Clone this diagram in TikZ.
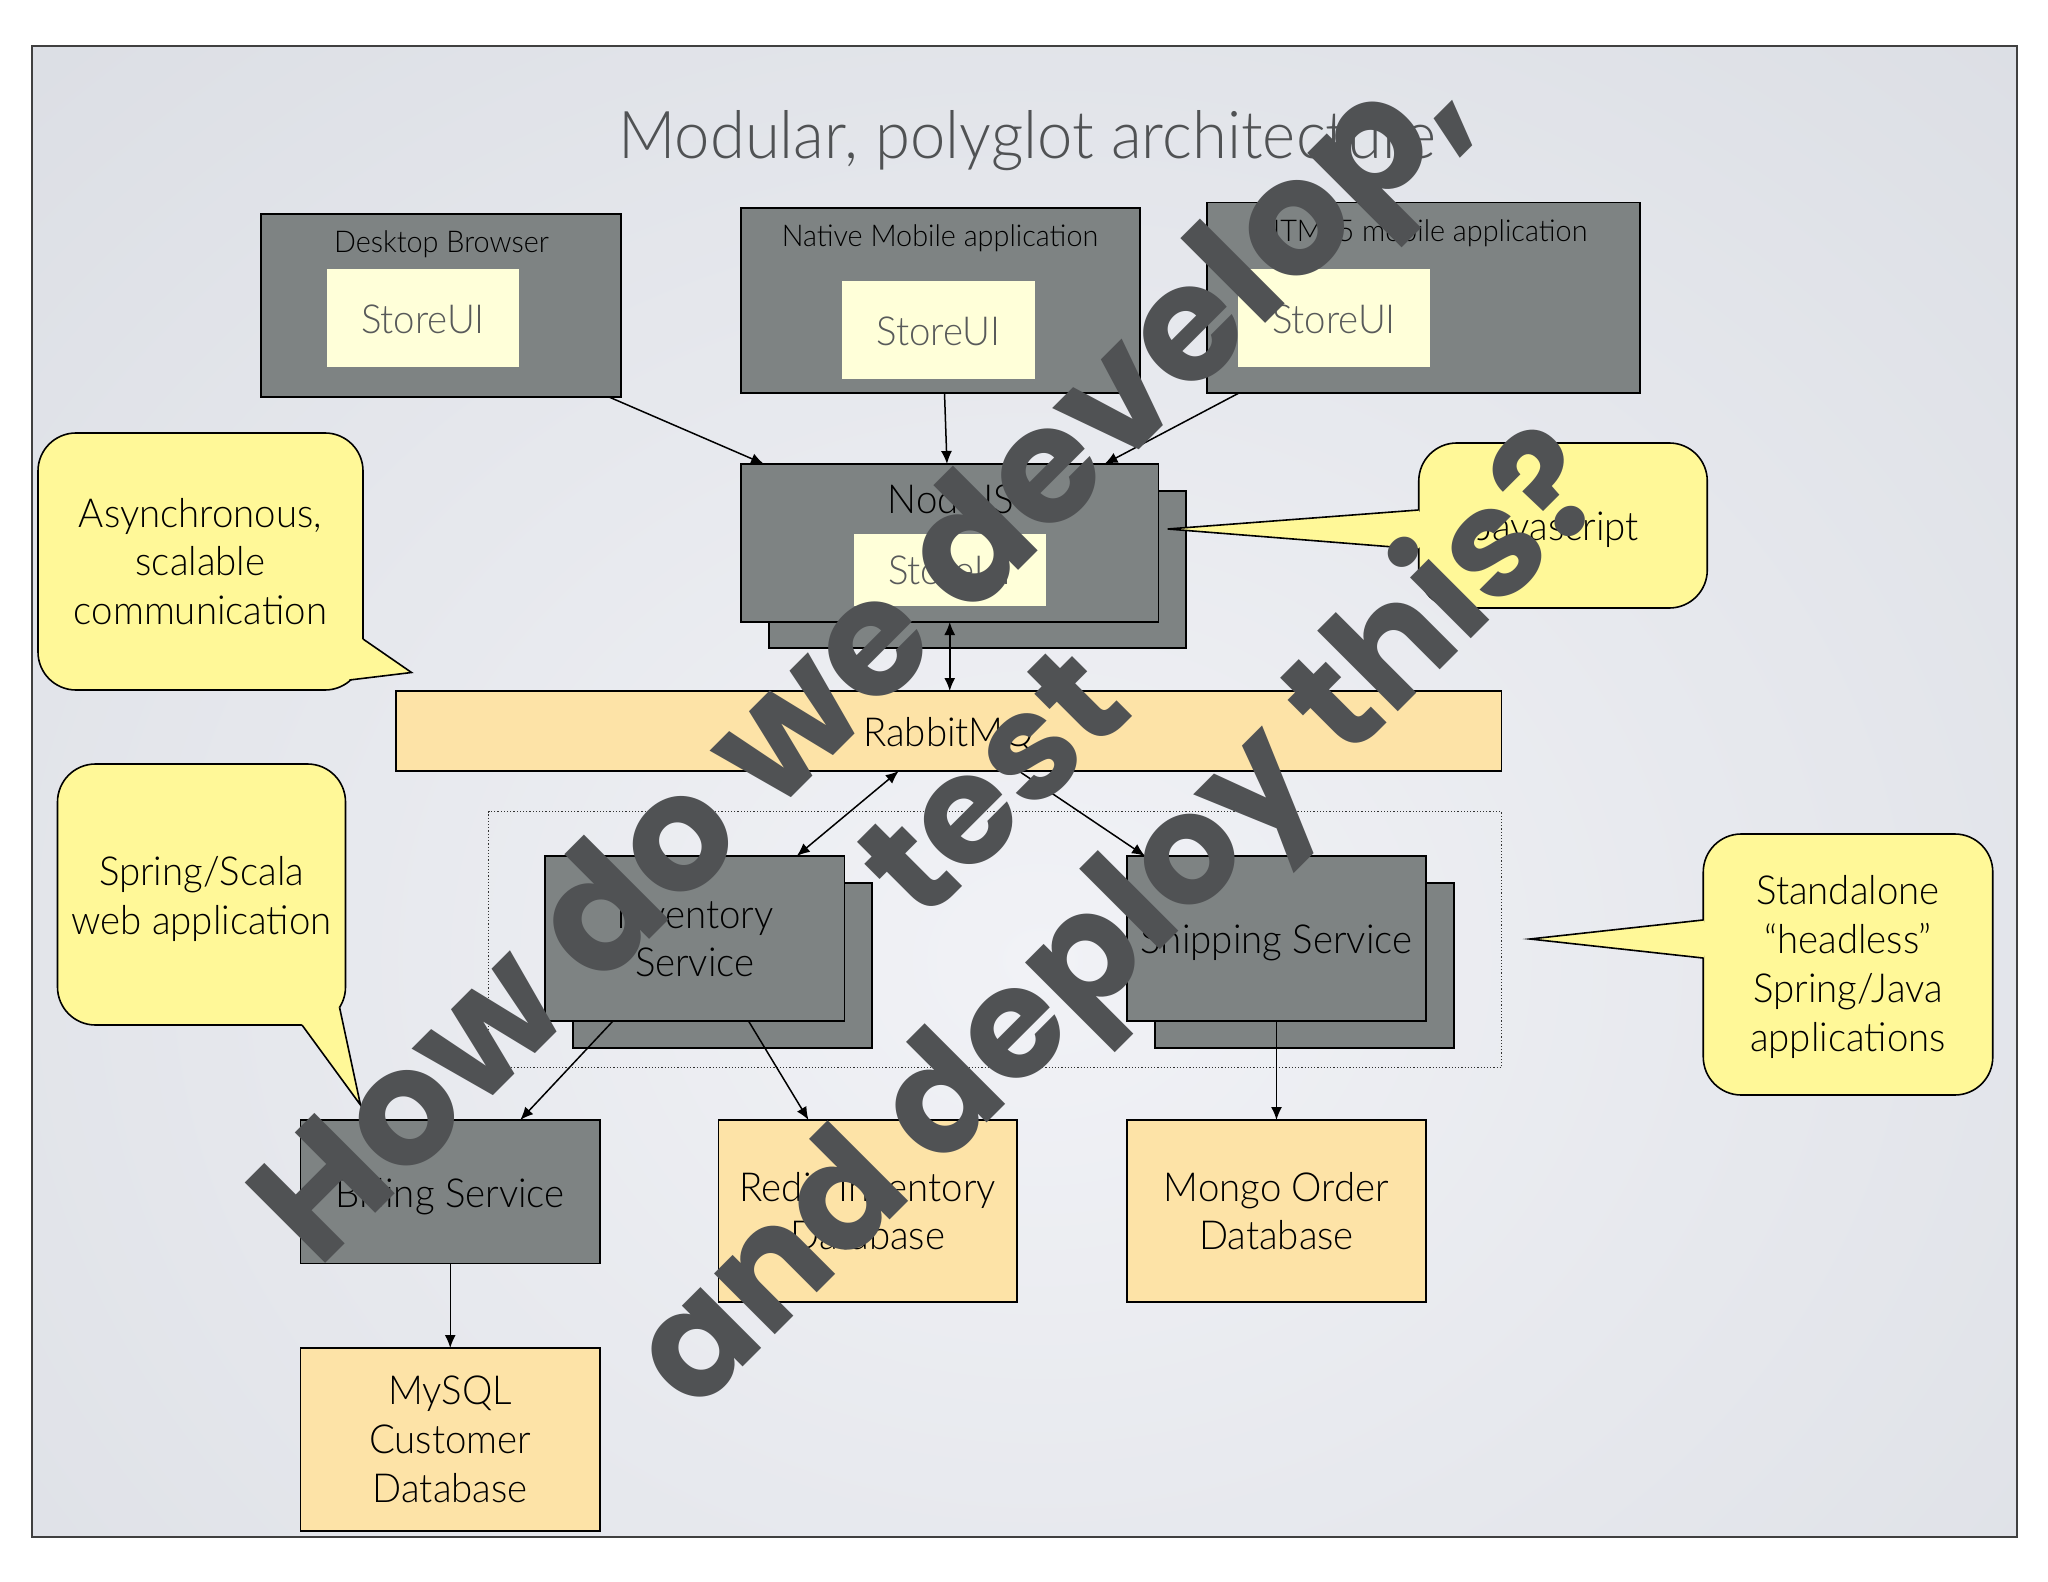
\documentclass[tikz,border=0pt]{standalone}
\usepackage{fontspec}
\setmainfont{Lato}[UprightFont=* Light,FakeStretch=.96]
\newfontfamily\overlayfont{Poppins}
\usetikzlibrary{arrows.meta}
\definecolor{slatebox}{RGB}{126, 131, 131}
\definecolor{paleui}{RGB}{255, 255, 217}
\definecolor{noteyellow}{RGB}{255, 248, 152}
\definecolor{storeorange}{RGB}{253, 227, 167}
\definecolor{inkgray}{RGB}{80, 82, 84}
\definecolor{uigray}{RGB}{88, 90, 90}
\definecolor{bga}{RGB}{241, 242, 246}
\definecolor{bgc}{RGB}{192, 197, 206}
\newcommand{\dropline}{\rule{0pt}{19pt}}
\tikzset{
  service/.style={draw=black,fill=slatebox,line width=.8pt,inner sep=0pt,outer sep=0pt,align=center,font=\fontsize{20}{24.35}\selectfont},
  uibox/.style={fill=paleui,inner sep=0pt,outer sep=0pt,text=uigray,font=\fontsize{20}{24}\selectfont},
  store/.style={service,fill=storeorange},
  note/.style={draw=black,fill=noteyellow,line width=.8pt,rounded corners=19pt,inner sep=0pt,outer sep=0pt,align=center,font=\fontsize{20}{24.35}\selectfont},
  caption/.style={inner sep=0pt,font=\fontsize{15}{18}\selectfont},
  flow/.style={-{Latex[length=6.5pt,width=5.5pt]},line width=.75pt},
  bothflow/.style={{Latex[length=6.5pt,width=5.5pt]}-{Latex[length=6.5pt,width=5.5pt]},line width=.75pt},
  overlay line/.style={inner sep=0pt,anchor=base,rotate=45,text=inkgray,font=\overlayfont\bfseries\fontsize{76}{90}\selectfont}
}

\begin{document}
\begin{tikzpicture}[x=.5pt,y=-.5pt]
\useasboundingbox (0,0) rectangle (2048,1582);
\begin{scope}
\clip (32,46) rectangle (2017,1537);
\shade[inner color=bga,outer color=bgc] (1040,960) ellipse [x radius=3400,y radius=2900];
\end{scope}
\draw[draw=black!75,line width=.6pt] (32,46) rectangle (2017,1537);
\node[inner sep=0pt,text=inkgray,font=\fontsize{33}{38}\selectfont] (title) at (1027,141) {Modular, polyglot architecture};
% clients
\node[service,minimum width=180pt,minimum height=91.5pt] (desktop) at (441,305.5) {};
\node[service,minimum width=199.5pt,minimum height=92.5pt] (native) at (940.5,300.5) {};
\node[service,minimum width=216.5pt,minimum height=95.25pt] (tms) at (1423.5,297.75) {};
\node[caption] (desktoplabel) at (441.5,244) {Desktop Browser};
\node[caption] (nativelabel) at (940,238) {Native Mobile application};
\node[caption] (tmslabel) at (1423,233) {HTML5 mobile application};
\node[uibox,minimum width=96pt,minimum height=49.25pt] (ui1) at (423,318) {\rule{0pt}{16pt}StoreUI};
\node[uibox,minimum width=96.5pt,minimum height=49pt] (ui2) at (938.5,330) {\rule{0pt}{16pt}StoreUI};
\node[uibox,minimum width=96pt,minimum height=49.25pt] (ui3) at (1334,318) {\rule{0pt}{16pt}StoreUI};
% node tier
\node[service,minimum width=208.5pt,minimum height=78.5pt] (nodeback) at (977.5,569.5) {};
\node[service,minimum width=208.75pt,minimum height=79pt] (nodefront) at (949.75,543) {};
\node[inner sep=0pt,font=\fontsize{20}{24}\selectfont] (nodelabel) at (951,499) {NodeJS};
\node[uibox,minimum width=96pt,minimum height=35.75pt] (ui4) at (950,570) {StoreUI};
\node[store,minimum width=552.75pt,minimum height=40pt] (rabbit) at (948.75,731) {\dropline RabbitMQ};
% services
\node[draw=black!80,densely dotted,line width=.6pt,minimum width=506.5pt,minimum height=128pt,inner sep=0pt] (group) at (995,939.7) {};
\node[service,minimum width=149.5pt,minimum height=82.5pt] (invback) at (722.5,965.5) {};
\node[service,minimum width=149.75pt,minimum height=82.5pt] (inv) at (694.75,938.5) {Inventory\\Service};
\node[service,minimum width=149.5pt,minimum height=82.5pt] (shipback) at (1304.5,965.5) {};
\node[service,minimum width=149.5pt,minimum height=82.5pt] (ship) at (1276.5,938.5) {\dropline Shipping Service};
\node[service,minimum width=149.75pt,minimum height=71.75pt] (bill) at (450.25,1191.75) {\dropline Billing Service};
\node[store,minimum width=149.25pt,minimum height=91pt] (redis) at (867.75,1211) {Redis Inventory\\Database};
\node[store,minimum width=149.5pt,minimum height=91pt] (mongo) at (1276.5,1211) {Mongo Order\\Database};
\node[store,minimum width=149.75pt,minimum height=91.5pt] (mysql) at (450.25,1439.5) {MySQL\\Customer\\Database};
% connectors
\draw[flow] ([xshift=-6pt]desktop.south east) -- ([xshift=11.5pt]nodefront.north west);
\draw[flow] ([xshift=2pt]native.south) -- ([xshift=-1.4pt]nodefront.north);
\draw[flow] ([xshift=16pt]tms.south west) -- ([xshift=-27pt]nodefront.north east);
\draw[bothflow] (nodefront.south) -- (nodefront.south |- rabbit.north);
\draw[bothflow] ([xshift=-25pt]rabbit.south) -- ([xshift=51pt]inv.north);
\draw[flow] ([xshift=35pt]rabbit.south) -- ([xshift=9pt]ship.north west);
\draw[flow] ([xshift=34pt]inv.south west) -- ([xshift=35pt]bill.north);
\draw[flow] ([xshift=-48pt]inv.south east) -- ([xshift=45pt]redis.north west);
\draw[flow] (ship.south) -- (mongo.north);
\draw[flow] (bill.south) -- (mysql.north);
% callouts
\node[note,minimum width=162.5pt,minimum height=128.5pt] (asyncnote) at (200.5,561.5) {Asynchronous,\\scalable\\communication};
\coordinate (asynca) at (363,639);
\coordinate (asynctip) at (411.5,672.5);
\coordinate (asyncb) at (349.5,680);
\fill[noteyellow] (asynca) -- (asynctip) -- (asyncb) -- (330,650) -- cycle;
\draw[line width=.8pt] (asynca) -- (asynctip) -- (asyncb);
\node[note,minimum width=144pt,minimum height=130.5pt] (springnote) at (201.5,894.5) {\dropline Spring/Scala\\web application};
\coordinate (springa) at (339.6,1007.6);
\coordinate (springtip) at (360.5,1105);
\coordinate (springb) at (302,1025);
\fill[noteyellow] (springa) -- (springtip) -- (springb) -- (300,1000) -- cycle;
\draw[line width=.8pt] (springa) -- (springtip) -- (springb);
\node[note,minimum width=144.25pt,minimum height=82.5pt] (jsnote) at (1563,525.5) {\dropline Javascript\hspace*{5pt}};
\coordinate (jsa) at (1418.5,510);
\coordinate (jstip) at (1167.7,529);
\coordinate (jsb) at (1418.5,549);
\fill[noteyellow] (jsa) -- (jstip) -- (jsb) -- (1430,530) -- cycle;
\draw[line width=.8pt] (jsa) -- (jstip) -- (jsb);
\node[note,minimum width=144.75pt,minimum height=130.5pt] (headlessnote) at (1848,964.5) {\rule{0pt}{17pt}Standalone\\``headless''\\Spring/Java\\applications};
\coordinate (heada) at (1703,920);
\coordinate (headtip) at (1530,939);
\coordinate (headb) at (1703,958);
\fill[noteyellow] (heada) -- (headtip) -- (headb) -- (1715,939) -- cycle;
\draw[line width=.8pt] (heada) -- (headtip) -- (headb);
% the big question across the slide
\node[overlay line,font=\overlayfont\bfseries\fontsize{81}{90}\selectfont] (ask1) at (897,692) {How do we develop,};
\node[overlay line] (ask2) at (1029,820) {test};
\node[overlay line,font=\overlayfont\bfseries\fontsize{77}{90}\selectfont] (ask3) at (1155,955) {and deploy this?};
\end{tikzpicture}
\end{document}
